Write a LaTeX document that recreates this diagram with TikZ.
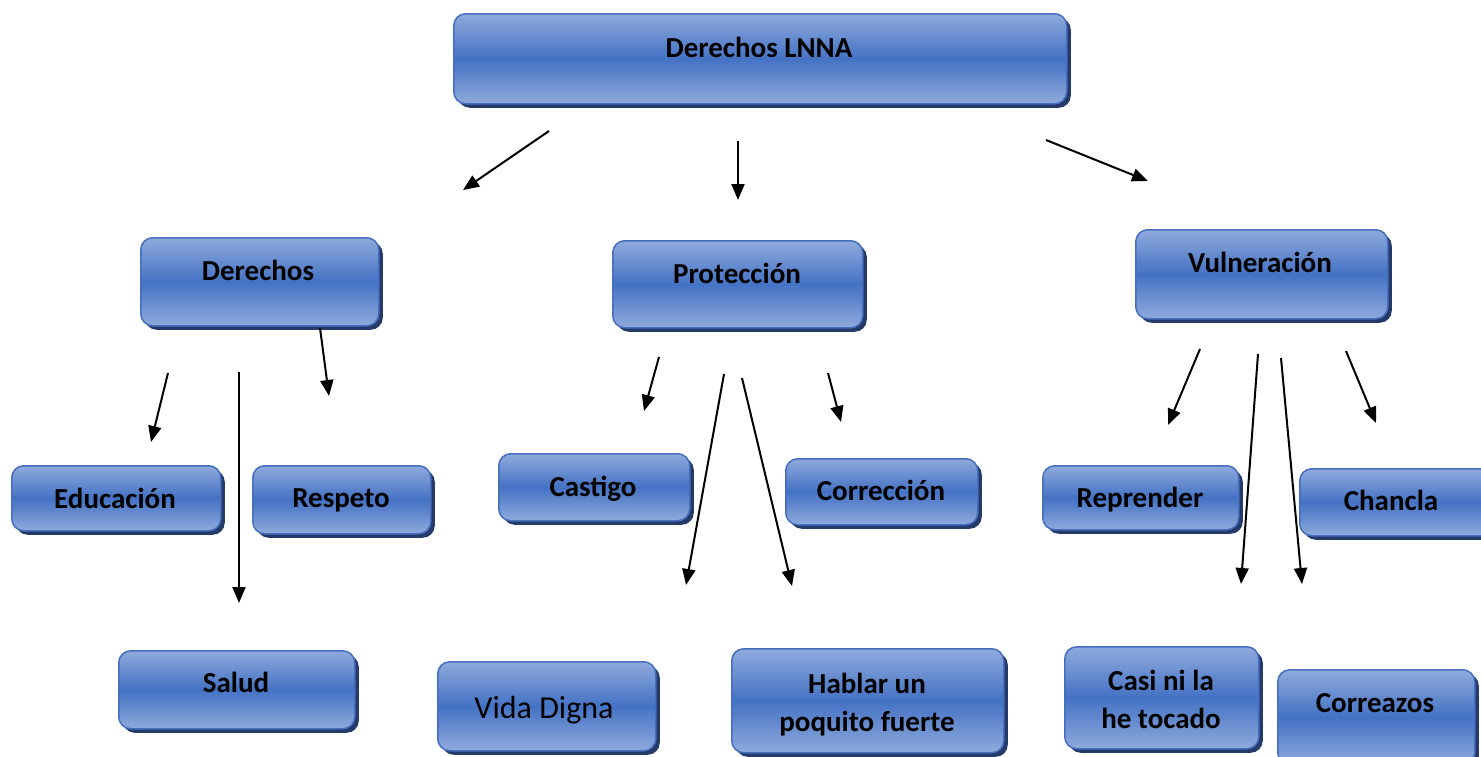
\documentclass[tikz,border=0pt]{standalone}
\usepackage{fontspec}
\setmainfont{Carlito}
\usetikzlibrary{shadows,arrows.meta}
\definecolor{boxlight}{RGB}{143,170,220}
\definecolor{boxmid}{RGB}{68,114,196}
\definecolor{boxline}{RGB}{70,110,190}
\definecolor{boxshadow}{RGB}{36,58,104}
\tikzset{
  box/.style={draw=boxline, line width=1.5pt, rounded corners=12pt,
    top color=boxlight, bottom color=boxlight, middle color=boxmid,
    anchor=north west, inner sep=0pt,
    drop shadow={shadow xshift=4pt, shadow yshift=-4pt, fill=boxshadow, opacity=1}},
  lbl/.style={anchor=base, font=\fontsize{29}{38}\selectfont\bfseries, align=center, inner sep=0pt},
  lblreg/.style={anchor=base, font=\fontsize{32}{38}\selectfont, inner sep=0pt},
  arr/.style={line width=2pt, -{Triangle[length=16pt,width=13pt]}},
}
\begin{document}
\begin{tikzpicture}[x=1pt,y=-1pt]
\path[use as bounding box, clip] (0,0) rectangle (1481,756);
% boxes
\node[box, minimum width=613pt, minimum height=90pt] (lnna) at (453,13) {};
\node[box, minimum width=238pt, minimum height=88pt] (der) at (140,237) {};
\node[box, minimum width=250pt, minimum height=87pt] (pro) at (612,240) {};
\node[box, minimum width=252pt, minimum height=89pt] (vul) at (1135,229) {};
\node[box, minimum width=209pt, minimum height=65pt] (edu) at (11,465) {};
\node[box, minimum width=178pt, minimum height=68pt] (res) at (252,465) {};
\node[box, minimum width=191pt, minimum height=67pt] (cas) at (498,453) {};
\node[box, minimum width=192pt, minimum height=66pt] (cor) at (785,458) {};
\node[box, minimum width=196pt, minimum height=64pt] (rep) at (1042,465) {};
\node[box, minimum width=196pt, minimum height=67pt] (cha) at (1299,468) {};
\node[box, minimum width=236pt, minimum height=78pt] (sal) at (118,650) {};
\node[box, minimum width=218pt, minimum height=89pt] (vid) at (437,661) {};
\node[box, minimum width=272pt, minimum height=104pt] (hab) at (731,648) {};
\node[box, minimum width=194pt, minimum height=102pt] (casi) at (1064,646) {};
\node[box, minimum width=197pt, minimum height=95pt] (corz) at (1277,669) {};
% labels
\node[lbl] (tlnna) at (759,57) {Derechos LNNA};
\node[lbl] (tder) at (258,280) {Derechos};
\node[lbl] (tpro) at (737,283) {Protección};
\node[lbl] (tvul) at (1260,272) {Vulneración};
\node[lbl] (tedu) at (115,508) {Educación};
\node[lbl] (tres) at (341,507) {Respeto};
\node[lbl] (tcas) at (593,496) {Castigo};
\node[lbl] (tcor) at (881,500) {Corrección};
\node[lbl] (trep) at (1140,507) {Reprender};
\node[lbl] (tcha) at (1391,510) {Chancla};
\node[lbl] (tsal) at (236,692) {Salud};
\node[lblreg] (tvid) at (544,718) {Vida Digna};
\node[lbl] (thab) at (867,731) {Hablar un\\poquito fuerte};
\node[lbl] (tcasi) at (1161,728) {Casi ni la\\he tocado};
\node[lbl] (tcorz) at (1375,712) {Correazos};
% arrow coordinates
\coordinate (a1s) at (549,131); \coordinate (a1e) at (463,190);
\coordinate (a2s) at (738,141); \coordinate (a2e) at (738,200);
\coordinate (a3s) at (1046,140); \coordinate (a3e) at (1148,181);
\coordinate (a4s) at (168,373); \coordinate (a4e) at (151,442);
\coordinate (a5s) at (239,372); \coordinate (a5e) at (239,603);
\coordinate (a6s) at (320,328); \coordinate (a6e) at (329,396);
\coordinate (a7s) at (659,357); \coordinate (a7e) at (644,411);
\coordinate (a8s) at (724,374); \coordinate (a8e) at (686,585);
\coordinate (a9s) at (742,378); \coordinate (a9e) at (792,586);
\coordinate (a10s) at (828,373); \coordinate (a10e) at (841,422);
\coordinate (a11s) at (1200,349); \coordinate (a11e) at (1168,425);
\coordinate (a12s) at (1258,354); \coordinate (a12e) at (1241,584);
\coordinate (a13s) at (1281,358); \coordinate (a13e) at (1302,584);
\coordinate (a14s) at (1346,351); \coordinate (a14e) at (1376,423);
\foreach \i in {1,...,14} \draw[arr] (a\i s) -- (a\i e);
\end{tikzpicture}
\end{document}
